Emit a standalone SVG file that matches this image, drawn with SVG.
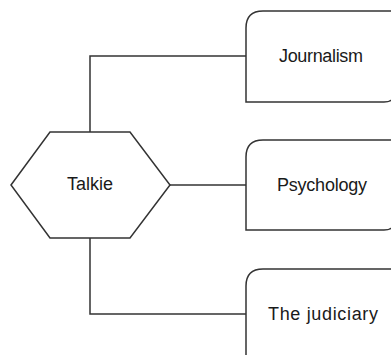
<svg xmlns="http://www.w3.org/2000/svg" width="391" height="355" viewBox="0 0 391 355">
<style>
.shape{fill:#ffffff;stroke:#333333;stroke-width:1.5}
.edge{fill:none;stroke:#333333;stroke-width:1.5}
.lbl{font-family:"Liberation Sans",Arial,sans-serif;font-size:18px;fill:#1a1a1a;text-anchor:middle}
</style>
<rect x="0" y="0" width="391" height="355" fill="#ffffff"/>
<g id="connectors">
<path class="edge" d="M90,132 L90,56 L246,56"/>
<path class="edge" d="M170,185 L246,185"/>
<path class="edge" d="M90,238 L90,314 L246,314"/>
</g>
<g id="talkie">
<polygon class="shape" points="11,185 50,132 130,132 170,185 130,238 50,238"/>
<text class="lbl" x="90" y="190" textLength="46">Talkie</text>
</g>
<g id="journalism">
<path class="shape" d="M246,101 L246,28 Q246,11 263,11 L394,11 L394,94 Q394,102 384,102 L246,102 Z"/>
<text class="lbl" x="321" y="62" textLength="84">Journalism</text>
</g>
<g id="psychology">
<path class="shape" d="M246,230 L246,157 Q246,140 263,140 L394,140 L394,222 Q394,230 384,230 Z"/>
<text class="lbl" x="322" y="191" textLength="90">Psychology</text>
</g>
<g id="judiciary">
<path class="shape" d="M246,360 L246,286 Q246,269 263,269 L394,269 L394,360 Z"/>
<text class="lbl" x="323" y="320" textLength="110">The judiciary</text>
</g>
</svg>
